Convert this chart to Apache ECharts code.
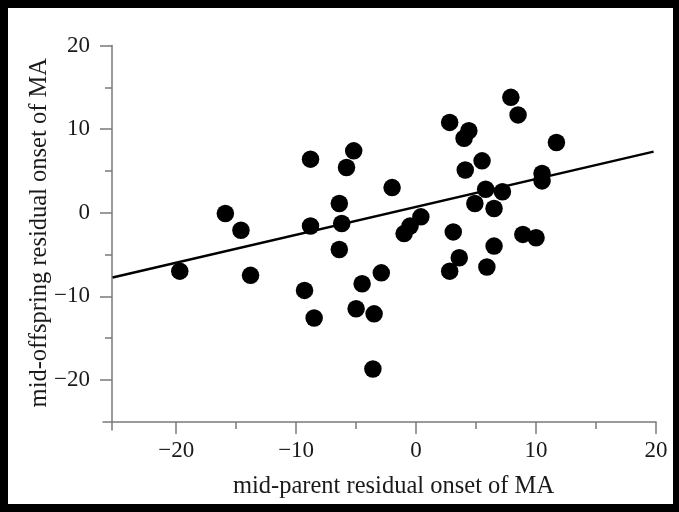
<!DOCTYPE html>
<html>
<head>
<meta charset="utf-8">
<script src="https://cdn.jsdelivr.net/npm/echarts@6/dist/echarts.min.js"></script>
<style>
html,body{margin:0;padding:0;background:#000;width:679px;height:512px;overflow:hidden;}
#paper{position:absolute;left:8px;top:8px;width:665px;height:496px;background:#fff;}
#chart{position:absolute;left:0;top:0;width:679px;height:512px;}
</style>
</head>
<body>
<div id="paper"></div>
<div id="chart"></div>
<script>
// mid-parent residual onset (x) and mid-offspring residual onset (y)
const parentX = [-19.7,-15.9,-14.6,-13.8,
  -8.8,-5.2,-5.8,-2.0,-6.4,-8.8,-6.2,-6.4,-2.9,-4.5,-9.3,-8.5,-5.0,-3.5,-3.6,
  -1.0,-0.5,0.4,
  2.8,4.4,4.0,7.9,8.5,11.7,5.5,4.1,10.5,10.5,5.8,7.2,4.9,6.5,3.1,8.9,10.0,6.5,3.6,2.8,5.9];
const offspringY = [-7.0,-0.1,-2.1,-7.5,
  6.4,7.4,5.4,3.0,1.1,-1.6,-1.3,-4.4,-7.2,-8.5,-9.3,-12.6,-11.5,-12.1,-18.7,
  -2.5,-1.6,-0.5,
  10.8,9.8,8.9,13.8,11.7,8.4,6.2,5.1,4.7,3.8,2.8,2.5,1.1,0.5,-2.3,-2.6,-3.0,-4.0,-5.4,-7.0,-6.5];
// fitted regression line end points
const fitX = [-25.3, 19.8];
const fitY = [-7.75, 7.3];
const majorTicks = [-20,-10,0,10,20];
const minorTicks = [-15,-5,5,15];
const xTitle = 'mid-parent residual onset of MA';
const yTitle = 'mid-offspring residual onset of MA';

const FONT = '"Liberation Serif","Times New Roman",serif';
const AX = '#7a7a7a';
const chart = echarts.init(document.getElementById('chart'), null, {renderer:'canvas'});
const pts = parentX.map((x,i)=>[x, offspringY[i]]);
const line = fitX.map((x,i)=>[x, fitY[i]]);
const baseX = {type:'value', min:-26.1, max:20, position:'bottom', offset:-8,
  splitLine:{show:false}};
const baseY = {type:'value', min:-26, max:20, position:'left', offset:-9,
  splitLine:{show:false}};
chart.setOption({
  backgroundColor:'transparent',
  animation:false,
  grid:{left:103, right:23, top:45.5, bottom:82, containLabel:false},
  xAxis:[
    Object.assign({}, baseX, {
      axisLine:{show:true, onZero:false, lineStyle:{color:AX, width:1.5}},
      axisTick:{show:true, length:12, customValues:majorTicks, lineStyle:{color:AX, width:1.5}},
      axisLabel:{show:true, customValues:majorTicks, margin:17, color:'#1a1a1a', fontFamily:FONT, fontSize:23,
        formatter:v=> v<0 ? '\u2212'+Math.abs(v) : String(v)},
      name:xTitle, nameLocation:'middle', nameGap:52,
      nameTextStyle:{color:'#1a1a1a', fontFamily:FONT, fontSize:24.5, padding:[0,0,0,28]}
    }),
    Object.assign({}, baseX, {
      axisLine:{show:false, onZero:false},
      axisTick:{show:true, length:7, customValues:minorTicks, lineStyle:{color:AX, width:1.5}},
      axisLabel:{show:false}
    })
  ],
  yAxis:[
    Object.assign({}, baseY, {
      axisLine:{show:true, onZero:false, lineStyle:{color:AX, width:1.5}},
      axisTick:{show:true, length:12, customValues:majorTicks, lineStyle:{color:AX, width:1.5}},
      axisLabel:{show:true, customValues:majorTicks, margin:22, color:'#1a1a1a', fontFamily:FONT, fontSize:23,
        formatter:v=> v<0 ? '\u2212'+Math.abs(v) : String(v)},
      name:yTitle, nameLocation:'middle', nameGap:60, nameRotate:90, nameMoveOverlap:false,
      nameTextStyle:{color:'#1a1a1a', fontFamily:FONT, fontSize:24.5, padding:[0,0,0,10]}
    }),
    Object.assign({}, baseY, {
      axisLine:{show:false, onZero:false},
      axisTick:{show:true, length:7, customValues:minorTicks, lineStyle:{color:AX, width:1.5}},
      axisLabel:{show:false}
    })
  ],
  series:[
    {type:'line', data:line, xAxisIndex:0, yAxisIndex:0, symbol:'none',
     lineStyle:{color:'#000', width:2.5}, z:3},
    {type:'scatter', data:pts, xAxisIndex:0, yAxisIndex:0, symbol:'circle', symbolSize:17.5,
     itemStyle:{color:'#000', opacity:1}, z:4}
  ]
});
</script>
</body>
</html>
